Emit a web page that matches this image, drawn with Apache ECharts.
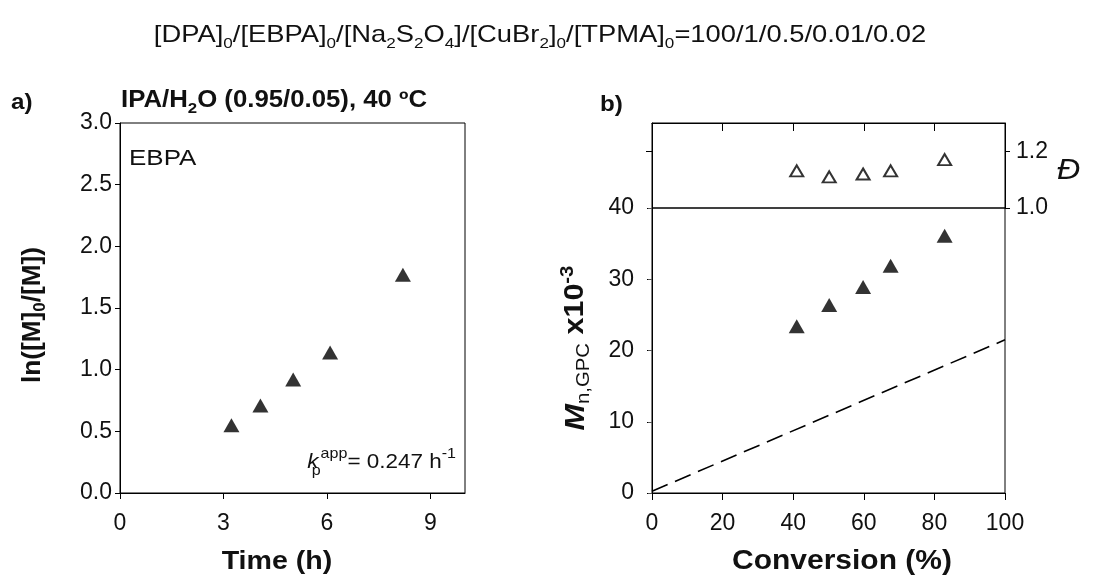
<!DOCTYPE html>
<html><head><meta charset="utf-8">
<script src="https://cdn.jsdelivr.net/npm/echarts@6/dist/echarts.min.js"></script>
<style>html,body{margin:0;padding:0;background:#fff}#c{width:1104px;height:578px}</style>
</head><body><div id="c"></div>
<script>
// ---- data ----
const timeA = [3.23, 4.07, 5.02, 6.09, 8.20];
const lnA = [0.55, 0.71, 0.92, 1.14, 1.77];
const convB = [41.0, 50.2, 59.8, 67.6, 82.9];
const mnB = [23.4, 26.4, 28.9, 31.9, 36.1];
const dispB = [1.131, 1.110, 1.120, 1.131, 1.171];
const thConv = [0, 100];
const thMn = [0.24, 21.5];
const ticksTime = [0, 3, 6, 9];
const ticksConv = [0, 20, 40, 60, 80, 100];
const ticksDisp = [1.0, 1.2];

const F = 'Liberation Sans, Arial, sans-serif';
const C = '#111';
const pairs = (a, b) => a.map((v, i) => [v, b[i]]);
const lbl = (m, extra) => Object.assign({color: C, fontSize: 23, fontFamily: F, margin: m}, extra || {});
const axLine = {show: true, lineStyle: {color: '#000', width: 1}};

const chart = echarts.init(document.getElementById('c'), null, {renderer: 'canvas'});
chart.setOption({
  backgroundColor: '#fff',
  animation: false,
  grid: [
    {left: 120, top: 123, width: 345, height: 370, show: true, borderColor: '#000', borderWidth: 1},
    {left: 652, top: 208, width: 353, height: 285, show: true, borderColor: '#000', borderWidth: 1},
    {left: 652, top: 123, width: 353, height: 85, show: true, borderColor: '#000', borderWidth: 1}
  ],
  xAxis: [
    {gridIndex: 0, type: 'value', min: 0, max: 10, axisLine: axLine, splitLine: {show: false},
     axisTick: {show: true, length: 6, customValues: ticksTime, lineStyle: {color: '#000'}},
     axisLabel: Object.assign(lbl(19), {customValues: ticksTime})},
    {gridIndex: 1, type: 'value', min: 0, max: 100, interval: 20, axisLine: axLine, splitLine: {show: false},
     axisTick: {show: true, length: 5, customValues: ticksConv, lineStyle: {color: '#000'}},
     axisLabel: Object.assign(lbl(19), {customValues: ticksConv})},
    {gridIndex: 1, type: 'value', position: 'top', min: 0, max: 100, interval: 20, axisLine: axLine, splitLine: {show: false},
     axisTick: {show: true, inside: true, length: 7, lineStyle: {color: '#000'}}, axisLabel: {show: false}},
    {gridIndex: 2, type: 'value', position: 'top', min: 0, max: 100, interval: 20, axisLine: axLine, splitLine: {show: false},
     axisTick: {show: true, inside: true, length: 8, lineStyle: {color: '#000'}}, axisLabel: {show: false}}
  ],
  yAxis: [
    {gridIndex: 0, type: 'value', min: 0, max: 3, interval: 0.5, axisLine: axLine, splitLine: {show: false},
     axisTick: {show: true, length: 5, lineStyle: {color: '#000'}},
     axisLabel: lbl(8, {formatter: v => v.toFixed(1)})},
    {gridIndex: 1, type: 'value', min: 0, max: 40, interval: 10, axisLine: axLine, splitLine: {show: false},
     axisTick: {show: true, length: 5, lineStyle: {color: '#000'}},
     axisLabel: lbl(18)},
    {gridIndex: 1, type: 'value', position: 'right', min: 0, max: 40, interval: 10, axisLine: axLine, splitLine: {show: false},
     axisTick: {show: true, inside: true, length: 4, lineStyle: {color: '#555'}}, axisLabel: {show: false}},
    {gridIndex: 2, type: 'value', min: 1.0, max: 1.3, axisLine: axLine, splitLine: {show: false},
     axisTick: {show: true, length: 6, customValues: [1.2], lineStyle: {color: '#000'}}, axisLabel: {show: false}},
    {gridIndex: 2, type: 'value', position: 'right', min: 1.0, max: 1.3, axisLine: axLine, splitLine: {show: false},
     axisTick: {show: true, length: 5, customValues: ticksDisp, lineStyle: {color: '#000'}},
     axisLabel: lbl(11, {customValues: ticksDisp, formatter: v => v.toFixed(1)})}
  ],
  series: [
    {type: 'scatter', xAxisIndex: 0, yAxisIndex: 0, data: pairs(timeA, lnA), symbol: 'triangle', symbolSize: [16, 14],
     itemStyle: {color: '#000'}},
    {type: 'line', xAxisIndex: 1, yAxisIndex: 1, data: pairs(thConv, thMn), symbol: 'none',
     lineStyle: {color: '#000', width: 1.6, type: [17, 8]}},
    {type: 'scatter', xAxisIndex: 1, yAxisIndex: 1, data: pairs(convB, mnB), symbol: 'triangle', symbolSize: [16, 14],
     itemStyle: {color: '#000'}},
    {type: 'scatter', xAxisIndex: 3, yAxisIndex: 3, data: pairs(convB, dispB), symbol: 'triangle', symbolSize: [13, 11],
     itemStyle: {color: '#fff', borderColor: '#000', borderWidth: 2}}
  ],
  graphic: [
    {type: 'text', x: 540, y: 35, scaleX: 1.14, style: {
      text: '[DPA]{s|0}/[EBPA]{s|0}/[Na{s|2}S{s|2}O{s|4}]/[CuBr{s|2}]{s|0}/[TPMA]{s|0}=100/1/0.5/0.01/0.02',
      fontFamily: F, fontSize: 24, lineHeight: 32, fill: C, align: 'center', verticalAlign: 'middle',
      rich: {s: {fontSize: 15, lineHeight: 14, verticalAlign: 'bottom', fontFamily: F, fill: C}}}},
    {type: 'text', x: 11, y: 103, scaleX: 1.1, style: {text: 'a)', fontFamily: F, fontSize: 22, fontWeight: 'bold', fill: C, verticalAlign: 'middle'}},
    {type: 'text', x: 600, y: 105, scaleX: 1.1, style: {text: 'b)', fontFamily: F, fontSize: 22, fontWeight: 'bold', fill: C, verticalAlign: 'middle'}},
    {type: 'text', x: 121, y: 101, scaleX: 1.12, style: {
      text: 'IPA/H{s|2}O (0.95/0.05), 40 ºC', fontFamily: F, fontSize: 23, fontWeight: 'bold', lineHeight: 30, fill: C, verticalAlign: 'middle',
      rich: {s: {fontSize: 15, lineHeight: 14, fontWeight: 'bold', verticalAlign: 'bottom', fontFamily: F, fill: C}}}},
    {type: 'text', x: 129, y: 159, scaleX: 1.18, style: {text: 'EBPA', fontFamily: F, fontSize: 22, fill: C, verticalAlign: 'middle'}},
    {type: 'text', x: 456, y: 462, scaleX: 1.07, style: {
      text: '{k|k}{p|p}{sup|app}= 0.247 h{sup|-1}', fontFamily: F, fontSize: 21, lineHeight: 32, fill: C, align: 'right', verticalAlign: 'middle',
      rich: {k: {fontStyle: 'italic', fontSize: 21, fontFamily: F, fill: C},
             p: {fontSize: 15, lineHeight: 12, width: 2, verticalAlign: 'bottom', fontFamily: F, fill: C},
             sup: {fontSize: 15, lineHeight: 12, verticalAlign: 'top', fontFamily: F, fill: C}}}},
    {type: 'text', x: 277, y: 562, scaleX: 1.1, style: {text: 'Time (h)', fontFamily: F, fontSize: 26, fontWeight: 'bold', fill: C, align: 'center', verticalAlign: 'middle'}},
    {type: 'text', x: 842, y: 562, scaleX: 1.11, style: {text: 'Conversion (%)', fontFamily: F, fontSize: 27, fontWeight: 'bold', fill: C, align: 'center', verticalAlign: 'middle'}},
    {type: 'text', x: 33, y: 315, rotation: Math.PI / 2, scaleX: 1.05, style: {
      text: 'ln([M]{s|0}/[M])', fontFamily: F, fontSize: 25, fontWeight: 'bold', lineHeight: 32, fill: C, align: 'center', verticalAlign: 'middle',
      rich: {s: {fontSize: 16, lineHeight: 14, fontWeight: 'bold', verticalAlign: 'bottom', fontFamily: F, fill: C}}}},
    {type: 'text', x: 576, y: 348, rotation: Math.PI / 2, scaleX: 1.13, style: {
      text: '{m|M}{s|n,GPC} x10{sup|-3}', fontFamily: F, fontSize: 27, fontWeight: 'bold', lineHeight: 34, fill: C, align: 'center', verticalAlign: 'middle',
      rich: {m: {fontSize: 28, fontWeight: 'bold', fontStyle: 'italic', fontFamily: F, fill: C},
             s: {fontSize: 18, lineHeight: 15, verticalAlign: 'bottom', fontFamily: F, fill: C},
             sup: {fontSize: 18, lineHeight: 15, fontWeight: 'bold', verticalAlign: 'top', fontFamily: F, fill: C}}}},
    {type: 'text', x: 1057, y: 171, scaleX: 1.1, style: {text: 'Đ', fontFamily: F, fontSize: 29, fontStyle: 'italic', fill: C, verticalAlign: 'middle'}}
  ]
});
</script>
</body></html>
